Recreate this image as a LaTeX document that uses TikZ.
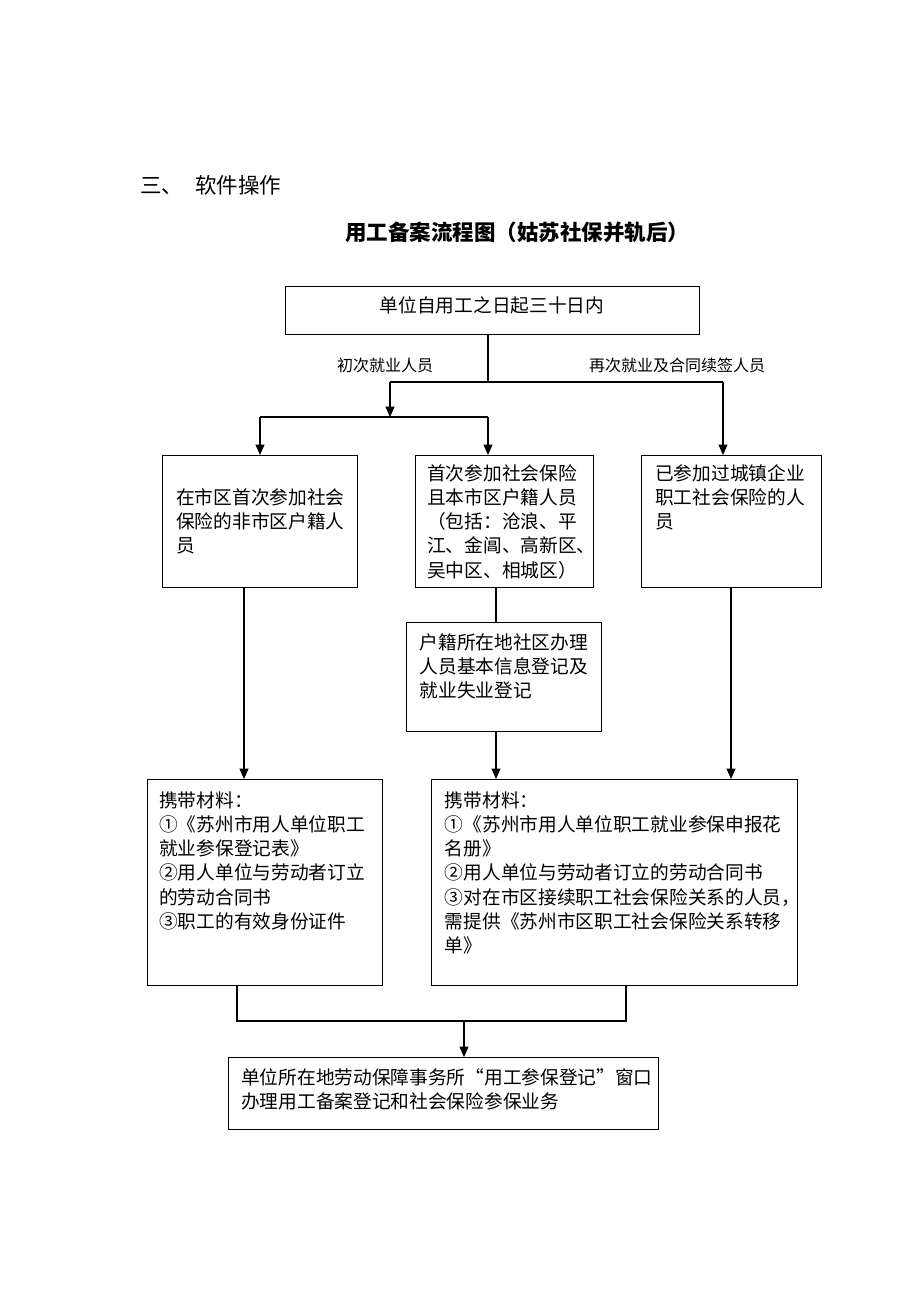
\documentclass[tikz,border=0pt]{standalone}
\usepackage{fontspec}
\setmainfont{Noto Sans CJK SC}
\usetikzlibrary{arrows.meta}
\begin{document}
\begin{tikzpicture}[x=1pt,y=-1pt,
  box/.style={draw, line width=1.2pt, inner sep=0pt, anchor=north west},
  txt/.style={anchor=base west, align=left, inner sep=0pt, font=\fontsize{18.7}{24.3}\selectfont},
  lbl/.style={anchor=base west, inner sep=0pt, font=\fontsize{16}{19}\selectfont},
  conn/.style={line width=1.2pt},
  arr/.style={line width=1.2pt, -{Triangle[length=10.5pt,width=9pt]}}]
\useasboundingbox (0,0) rectangle (920,1302);
% header and title
\node[anchor=base west, inner sep=0pt, font=\fontsize{21.5}{24}\selectfont] (h1) at (140,193) {三、};
\node[anchor=base west, inner sep=0pt, font=\fontsize{21.5}{24}\selectfont] (h2) at (195,193) {软件操作};
\node[anchor=base west, inner sep=0pt, font=\fontsize{21.5}{24}\selectfont\bfseries] (title) at (345,240) {用工备案流程图（姑苏社保并轨后）};
% boxes
\node[box, minimum width=414pt, minimum height=48pt] (top) at (285,286) {};
\node[box, minimum width=195pt, minimum height=132pt] (A) at (162,455) {};
\node[box, minimum width=178pt, minimum height=132pt] (B) at (415,455) {};
\node[box, minimum width=180pt, minimum height=132pt] (C) at (641,455) {};
\node[box, minimum width=195pt, minimum height=109pt] (D) at (406,622) {};
\node[box, minimum width=235pt, minimum height=206pt] (E) at (147,779) {};
\node[box, minimum width=366pt, minimum height=206pt] (F) at (431,779) {};
\node[box, minimum width=430pt, minimum height=72pt] (G) at (228,1057) {};
% texts (base anchor = baseline of the last line)
\node[txt, anchor=base] (ttop) at (492,312) {单位自用工之日起三十日内};
\node[txt] (tA) at (176,552.6) {在市区首次参加社会\\保险的非市区户籍人\\员};
\node[txt] (tB) at (427,577.2) {首次参加社会保险\\且本市区户籍人员\\（包括：沧浪、平\\江、金阊、高新区、\\吴中区、相城区）};
\node[txt] (tC) at (655,528.6) {已参加过城镇企业\\职工社会保险的人\\员};
\node[txt] (tD) at (419.5,697.6) {户籍所在地社区办理\\人员基本信息登记及\\就业失业登记};
\node[txt] (tE) at (159,928.5) {携带材料：\\①《苏州市用人单位职工\\就业参保登记表》\\②用人单位与劳动者订立\\的劳动合同书\\③职工的有效身份证件};
\node[txt] (tF) at (444.7,952.8) {携带材料：\\①《苏州市用人单位职工就业参保申报花\\名册》\\②用人单位与劳动者订立的劳动合同书\\③对在市区接续职工社会保险关系的人员，\\需提供《苏州市区职工社会保险关系转移\\单》};
\node[txt] (tG) at (241,1108.3) {单位所在地劳动保障事务所“用工参保登记”窗口\\办理用工备案登记和社会保险参保业务};
% labels
\node[lbl] (l1) at (337,371) {初次就业人员};
\node[lbl] (l2) at (589,371) {再次就业及合同续签人员};
% junctions
\coordinate (j1) at (488,382);
\coordinate (jL) at (390,382);
\coordinate (jR) at (723,382);
\coordinate (j2) at (390,417);
\coordinate (kA) at (260,417);
\coordinate (kB) at (488,417);
\coordinate (m1) at (237,1021);
\coordinate (m2) at (626,1021);
\coordinate (m3) at (464,1021);
% connectors
\draw[conn] (top.south -| j1) -- (j1);
\draw[conn] (jL) -- (jR);
\draw[arr] (jL) -- (j2);
\draw[conn] (kA) -- (kB);
\draw[arr] (kA) -- (kA |- A.north);
\draw[arr] (kB) -- (kB |- B.north);
\draw[arr] (jR) -- (jR |- C.north);
\draw[arr] ([xshift=82pt]A.south west) -- ([xshift=82pt]A.south west |- E.north);
\draw[conn] ([xshift=81pt]B.south west) -- ([xshift=81pt]B.south west |- D.north);
\draw[arr] ([xshift=90pt]D.south west) -- ([xshift=90pt]D.south west |- F.north);
\draw[arr] ([xshift=90pt]C.south west) -- ([xshift=90pt]C.south west |- F.north);
\draw[conn] (m1 |- E.south) -- (m1) -- (m2) -- (m2 |- F.south);
\draw[arr] (m3) -- (m3 |- G.north);
\end{tikzpicture}
\end{document}
